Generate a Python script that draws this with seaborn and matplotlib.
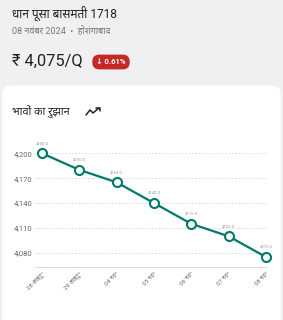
import numpy as np
import matplotlib
matplotlib.use("Agg")
import matplotlib.pyplot as plt
import seaborn as sns
from matplotlib import font_manager
from matplotlib.patches import FancyBboxPatch
from matplotlib.lines import Line2D
from matplotlib.transforms import ScaledTranslation

# data
dates = ["28 अक्टू॰", "29 अक्टू॰", "04 नव॰", "05 नव॰", "06 नव॰", "07 नव॰", "08 नव॰"]
prices = [4200, 4180, 4165, 4140, 4115, 4100, 4075]
yticks = [4080, 4110, 4140, 4170, 4200]

title = "धान पूसा बासमती 1718"
subtitle = "08 नवंबर 2024  •  होशंगाबाद"
price_text = "₹ 4,075/Q"
change_text = "↓ 0.61%"
chart_title = "भावों का रुझान"

# pick a Devanagari font that is installed
have = {f.name for f in font_manager.fontManager.ttflist}
deva = "FreeSans"
for name in ["Noto Sans Devanagari", "Noto Sans Devanagari UI", "Hind", "Mukta",
             "Poppins", "Anek Devanagari", "FreeSans"]:
    if name in have:
        deva = name
        break

sns.set_theme(style="white")
plt.rcParams["font.family"] = ["Roboto", deva, "DejaVu Sans"]

teal = "#00796b"
fig = plt.figure(figsize=(2.83, 3.2), dpi=100)
fig.patch.set_facecolor("#f0f0f2")

# white card
card = FancyBboxPatch((0.008, -0.05), 0.984, 0.783, boxstyle="round,pad=0,rounding_size=0.03",
                      transform=fig.transFigure, facecolor="white", edgecolor="none", zorder=-5)
fig.patches.append(card)

fig.text(12 / 283, 1 - 13 / 320, title, fontsize=8.6, color="#222222", va="center")
fig.text(12 / 283, 1 - 30 / 320, subtitle, fontsize=6.5, color="#777777", va="center")
fig.text(12 / 283, 1 - 61 / 320, price_text, fontsize=11.8, color="#222222", va="center")
fig.text(111 / 283, 1 - 62 / 320, change_text, fontsize=5.6, color="white", fontweight="bold",
         va="center", ha="center",
         bbox=dict(boxstyle="round,pad=0.5,rounding_size=0.9", fc="#c62828", ec="none"))
fig.text(12 / 283, 1 - 111 / 320, chart_title, fontsize=7.8, color="#222222", va="center")

# trending icon
ix = np.array([86, 90, 93, 99]) / 283
iy = 1 - np.array([115, 110, 113, 108]) / 320
fig.lines.append(Line2D(ix, iy, transform=fig.transFigure, color="#222222", lw=1.1))
fig.lines.append(Line2D([96 / 283, 99.5 / 283, 99.5 / 283], [1 - 107.5 / 320, 1 - 107.5 / 320, 1 - 111 / 320],
                        transform=fig.transFigure, color="#222222", lw=1.1))

ax = fig.add_axes([35 / 283, 1 - 267 / 320, (267 - 35) / 283, (267 - 140) / 320])
ax.set_facecolor("none")
x = np.arange(len(prices))
sns.lineplot(x=x, y=prices, ax=ax, color=teal, lw=1.6, marker="o", markersize=6.5,
             markerfacecolor="white", markeredgecolor=teal, markeredgewidth=1.5, clip_on=False)
ax.set_ylim(4063, 4216)
ax.set_xlim(-0.1875, 6.027)
ax.set_yticks(yticks)
ax.set_yticklabels([f"{v:,}" for v in yticks])
ax.set_xticks(x)
ax.set_xticklabels(dates, rotation=45, ha="right", va="top", rotation_mode="anchor")
shift = ScaledTranslation(0.07, 0, fig.dpi_scale_trans)
for lbl in ax.get_xticklabels():
    lbl.set_transform(lbl.get_transform() + shift)
ax.tick_params(axis="y", length=0, pad=2, labelsize=5.5, labelcolor="#666666")
ax.tick_params(axis="x", length=0, pad=3, labelsize=4.3, labelcolor="#666666")
for v in yticks:
    ax.axhline(v, color="#cccccc", lw=0.6, ls=(0, (1.5, 2.5)), zorder=0)
for s in ["top", "right", "left"]:
    ax.spines[s].set_visible(False)
ax.spines["bottom"].set_color("#dddddd")
ax.spines["bottom"].set_linewidth(0.8)
for xi, v in zip(x, prices):
    ax.annotate(f"{v:.1f}", (xi, v), xytext=(0, 5.5), textcoords="offset points",
                ha="center", va="bottom", fontsize=3, color="#999999")

fig.savefig("out.png", dpi=100)
